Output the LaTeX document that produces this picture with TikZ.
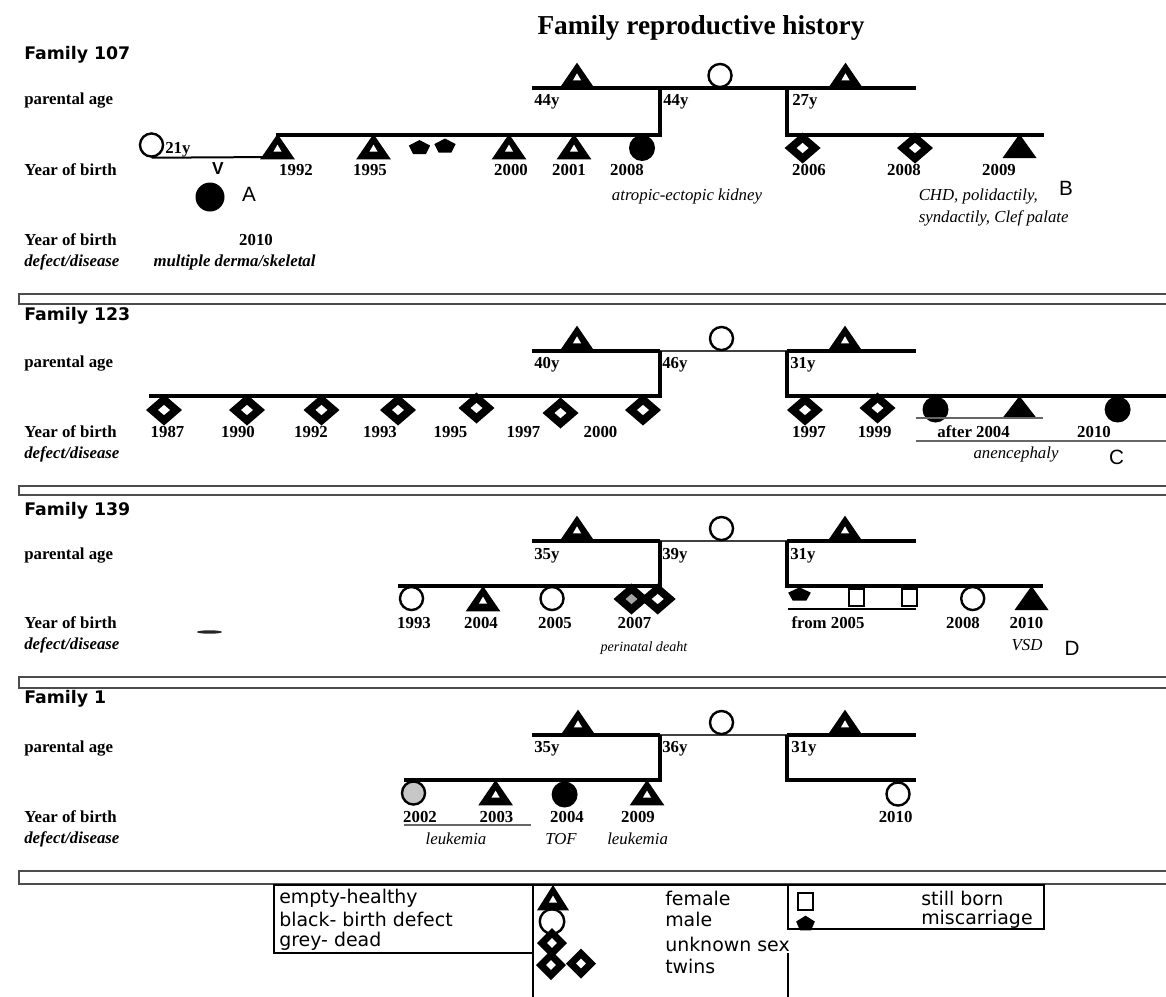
\documentclass[tikz,border=0pt]{standalone}
\usepackage{fontspec}
\setmainfont{Liberation Serif}
\newfontfamily\famfont{DejaVu Sans}
\newfontfamily\letfont{Liberation Sans}
\usetikzlibrary{calc}
\newcommand\ppbb{path picture bounding box}

\tikzset{
  pline/.style={line width=2.3pt},
  mline/.style={line width=1.1pt, black!75},
  uline/.style={line width=0.8pt, black!60},
  bandbox/.style={draw=black!70, line width=1.3pt},
  legbox/.style={line width=1.5pt},
  symb/.style={rectangle, inner sep=0pt, outer sep=0pt},
  fem/.style={symb, minimum width=26pt, minimum height=19pt, path picture={
      \fill (\ppbb.south west) -- (\ppbb.south east) -- (\ppbb.north) -- cycle;
      \fill[white] ($(\ppbb.north)!0.42!(\ppbb.south)$)
        -- ($(\ppbb.north)!0.7!(\ppbb.south)+(3.1pt,0pt)$)
        -- ($(\ppbb.north)!0.7!(\ppbb.south)+(-3.1pt,0pt)$) -- cycle;}},
  femblk/.style={symb, minimum width=25.5pt, minimum height=18pt, path picture={
      \fill (\ppbb.south west) -- (\ppbb.south east) -- (\ppbb.north) -- cycle;}},
  unk/.style={symb, minimum width=27pt, minimum height=23.25pt, path picture={
      \fill (\ppbb.north) -- (\ppbb.east) -- (\ppbb.south) -- (\ppbb.west) -- cycle;
      \fill[#1] ($(\ppbb.center)!0.33!(\ppbb.north)$) -- ($(\ppbb.center)!0.33!(\ppbb.east)$)
        -- ($(\ppbb.center)!0.33!(\ppbb.south)$) -- ($(\ppbb.center)!0.33!(\ppbb.west)$) -- cycle;}},
  unk/.default=white,
  male/.style={circle, draw, fill=white, line width=1.8pt, inner sep=0pt, minimum size=17.3pt},
  malblk/.style={circle, fill=black, inner sep=0pt, minimum size=19.5pt},
  malgry/.style={male, fill=black!22},
  still/.style={rectangle, draw, line width=1.5pt, inner sep=0pt, minimum width=11.25pt, minimum height=12.75pt},
  misc/.style={symb, minimum width=16pt, minimum height=10.5pt, path picture={
      \fill ($(\ppbb.north west)!0.5!(\ppbb.north east)$) -- ($(\ppbb.north east)!0.4!(\ppbb.south east)$)
        -- ($(\ppbb.south west)!0.8!(\ppbb.south east)$) -- ($(\ppbb.south west)!0.2!(\ppbb.south east)$)
        -- ($(\ppbb.north west)!0.4!(\ppbb.south west)$) -- cycle;}},
  ttl/.style={font=\fontsize{20.5}{24}\selectfont\bfseries, inner sep=0pt},
  fam/.style={font=\famfont\bfseries\fontsize{13}{15}\selectfont, anchor=west, inner sep=0pt},
  rowl/.style={font=\fontsize{12.6}{15}\selectfont\bfseries, anchor=west, inner sep=0pt},
  rowi/.style={font=\fontsize{12.6}{15}\selectfont\bfseries\itshape, anchor=west, inner sep=0pt},
  yr/.style={font=\fontsize{12.6}{15}\selectfont\bfseries, inner sep=0pt},
  age/.style={yr, anchor=west},
  dis/.style={font=\fontsize{12.6}{15}\selectfont\itshape, inner sep=0pt},
  panel/.style={font=\letfont\fontsize{15.5}{18}\selectfont, inner sep=0pt},
  leg/.style={font=\famfont\fontsize{14.2}{16}\selectfont, anchor=west, inner sep=0pt}
}

\begin{document}
\begin{tikzpicture}[x=0.75pt,y=-0.75pt]
\useasboundingbox (0,0) rectangle (1166,996);
\clip (0,0) rectangle (1166,996);

\node[ttl] (title) at (701,28) {Family reproductive history};

% Family 107
\node[fam] (f107) at (24,55) {Family 107};
\node[rowl] (pa107) at (24,101) {parental age};
\node[rowl] (yb107) at (24,170) {Year of birth};
\node[rowl] (yc107) at (24,240) {Year of birth};
\node[rowi] (dd107) at (24,262) {defect/disease};
\coordinate (a107l) at (532,88);
\coordinate (a107m) at (660,88);
\coordinate (a107n) at (787,88);
\coordinate (a107r) at (916,88);
\coordinate (b107l) at (275.5,135);
\coordinate (b107m) at (660,135);
\coordinate (b107n) at (787,135);
\coordinate (b107r) at (1044,135);
\draw[pline] (a107l) -- (a107r);
\draw[pline] (b107l) -- (b107m) -- (a107m);
\draw[pline] (a107n) -- (b107n) -- (b107r);
\node[fem, anchor=south] (m107a) at (577,88) {};
\node[male] (d107) at (720,75.5) {};
\node[fem, anchor=south] (m107b) at (845.5,88) {};
\node[age] (g107a) at (534,102) {44y};
\node[age] (g107b) at (663,102) {44y};
\node[age] (g107c) at (792,102) {27y};
% half sibling
\node[male] (h107) at (151.5,145) {};
\coordinate (h107r) at (275,157);
\draw[line width=1.5pt] (h107.south) -- (h107r);
\node[age] (g107h) at (165,150) {21y};
\node[panel, font=\letfont\bfseries\fontsize{13}{15}\selectfont] (v107) at (218,169) {V};
\node[malblk, minimum size=21.75pt] (k107) at (210,197) {};
\node[panel] (la) at (249,194) {A};
% children
\node[fem, anchor=north] (c107a) at (277.5,134) {};
\node[fem, anchor=north] (c107b) at (373.5,134) {};
\node[misc] (q107a) at (419.5,147) {};
\node[misc] (q107b) at (445,145.5) {};
\node[fem, anchor=north] (c107c) at (509,134) {};
\node[fem, anchor=north] (c107d) at (574,134) {};
\node[malblk] (c107e) at (642,148) {};
\node[unk] (c107f) at (802.6,148) {};
\node[unk] (c107g) at (915,148) {};
\node[femblk, anchor=north] (c107h) at (1019.5,134) {};
\foreach \x/\t [count=\i] in {296/1992, 370/1995, 511/2000, 569/2001, 627/2008, 809/2006, 904/2008, 999/2009}
  \node[yr] (y107-\i) at (\x,170) {\t};
\node[yr] (y107k) at (256,240) {2010};
\node[rowi, anchor=center] (d107k) at (234.5,262) {multiple derma/skeletal};
\node[dis] (d107a) at (687,196) {atropic-ectopic kidney};
\node[dis, anchor=west] (d107b) at (918.5,196) {CHD, polidactily,};
\node[dis, anchor=west] (d107c) at (918.5,218) {syndactily, Clef palate};
\node[panel] (lb) at (1066,188) {B};

\draw[bandbox] (19,294) rectangle (1175,304);

% Family 123
\node[fam] (f123) at (24,316) {Family 123};
\node[rowl] (pa123) at (24,364) {parental age};
\node[rowl] (yb123) at (24,432) {Year of birth};
\node[rowi] (dd123) at (24,454) {defect/disease};
\coordinate (a123l) at (532,351);
\coordinate (a123m) at (660,351);
\coordinate (a123n) at (787,351);
\coordinate (a123r) at (916,351);
\coordinate (b123l) at (148.5,396);
\coordinate (b123m) at (660,396);
\coordinate (b123n) at (787,396);
\coordinate (b123r) at (1170,396);
\draw[pline] (a123l) -- (a123m);
\draw[mline] (a123m) -- (a123n);
\draw[pline] (a123n) -- (a123r);
\draw[pline] (b123l) -- (b123m) -- (a123m);
\draw[pline] (a123n) -- (b123n) -- (b123r);
\node[fem, anchor=south] (m123a) at (577,351) {};
\node[male] (d123) at (721.5,338.5) {};
\node[fem, anchor=south] (m123b) at (845,351) {};
\node[age] (g123a) at (534,365) {40y};
\node[age] (g123b) at (662,365) {46y};
\node[age] (g123c) at (790,365) {31y};
\foreach \x/\y [count=\i] in {164/410, 247/410, 321.5/410, 398/410, 476.5/408, 560.5/413, 643/410, 805/410, 877.5/408}
  \node[unk] (u123-\i) at (\x,\y) {};
\node[malblk] (c123a) at (935.5,409.5) {};
\node[femblk, anchor=north, minimum height=16.5pt] (c123b) at (1019.5,396) {};
\node[malblk] (c123c) at (1117.6,409.5) {};
\coordinate (t123a) at (915.6,418);
\coordinate (t123b) at (1043,418);
\coordinate (t123c) at (915.6,441);
\coordinate (t123d) at (1170,441);
\draw[uline] (t123a) -- (t123b);
\draw[uline] (t123c) -- (t123d);
\foreach \x/\t [count=\i] in {167.5/1987, 238/1990, 311/1992, 380/1993, 450.5/1995, 523.5/1997, 600.5/2000, 809/1997, 874.6/1999, 973.6/after 2004, 1094/2010}
  \node[yr] (y123-\i) at (\x,432) {\t};
\node[dis] (d123a) at (1016,454) {anencephaly};
\node[panel] (lc) at (1116.5,457.5) {C};

\draw[bandbox] (19,486) rectangle (1175,495);

% Family 139
\node[fam] (f139) at (24,511) {Family 139};
\node[rowl] (pa139) at (24,556) {parental age};
\node[rowl] (yb139) at (24,623) {Year of birth};
\node[rowi] (dd139) at (24,645) {defect/disease};
\coordinate (a139l) at (532,541);
\coordinate (a139m) at (660,541);
\coordinate (a139n) at (787,541);
\coordinate (a139r) at (916,541);
\coordinate (b139l) at (398,586);
\coordinate (b139m) at (660,586);
\coordinate (b139n) at (787,586);
\coordinate (b139r) at (1043,586);
\draw[pline] (a139l) -- (a139m);
\draw[mline] (a139m) -- (a139n);
\draw[pline] (a139n) -- (a139r);
\draw[pline] (b139l) -- (b139m) -- (a139m);
\draw[pline] (a139n) -- (b139n) -- (b139r);
\node[fem, anchor=south] (m139a) at (577,541) {};
\node[male] (d139) at (721.5,528.5) {};
\node[fem, anchor=south] (m139b) at (845,541) {};
\node[age] (g139a) at (534,556) {35y};
\node[age] (g139b) at (662,556) {39y};
\node[age] (g139c) at (790,556) {31y};
\node[male] (c139a) at (411.5,598.5) {};
\node[fem, anchor=north] (c139b) at (483,586) {};
\node[male] (c139c) at (552,598.5) {};
\node[unk=black!35] (c139d) at (631.5,599) {};
\node[unk] (c139e) at (657.7,599) {};
\node[misc, minimum width=17pt, minimum height=10pt] (q139) at (799.5,594) {};
\node[still] (s139a) at (856.7,597.5) {};
\node[still] (s139b) at (909,597.5) {};
\coordinate (t139a) at (788,609);
\coordinate (t139b) at (915.6,609);
\draw[line width=1.8pt] (t139a) -- (t139b);
\node[male] (c139f) at (972.7,598.5) {};
\node[femblk, anchor=north] (c139g) at (1031.5,586) {};
\foreach \x/\t [count=\i] in {414/1993, 481/2004, 555/2005, 634.5/2007, 828/from 2005, 963/2008, 1026.5/2010}
  \node[yr] (y139-\i) at (\x,623) {\t};
\node[dis, font=\fontsize{10.6}{12}\selectfont\itshape] (d139a) at (644,648) {perinatal deaht};
\node[dis] (d139b) at (1027,645) {VSD};
\node[panel] (ld) at (1072,648) {D};
\fill[black!85] (209.5,632) ellipse (9.4pt and 1.3pt);

\draw[bandbox] (19,677) rectangle (1175,688);

% Family 1
\node[fam] (f1) at (24,699) {Family 1};
\node[rowl] (pa1) at (24,749) {parental age};
\node[rowl] (yb1) at (24,817) {Year of birth};
\node[rowi] (dd1) at (24,839) {defect/disease};
\coordinate (a1l) at (532,735);
\coordinate (a1m) at (660,735);
\coordinate (a1n) at (787,735);
\coordinate (a1r) at (916,735);
\coordinate (b1l) at (403.7,780);
\coordinate (b1m) at (660,780);
\coordinate (b1n) at (787,780);
\coordinate (b1r) at (915.6,780);
\draw[pline] (a1l) -- (a1m);
\draw[mline] (a1m) -- (a1n);
\draw[pline] (a1n) -- (a1r);
\draw[pline] (b1l) -- (b1m) -- (a1m);
\draw[pline] (a1n) -- (b1n) -- (b1r);
\node[fem, anchor=south] (m1a) at (578,735) {};
\node[male] (d1) at (721.5,722.5) {};
\node[fem, anchor=south] (m1b) at (845,735) {};
\node[age] (g1a) at (534,749) {35y};
\node[age] (g1b) at (662,749) {36y};
\node[age] (g1c) at (791,749) {31y};
\node[malgry] (c1a) at (413.5,793) {};
\node[fem, anchor=north] (c1b) at (495.6,780) {};
\node[malblk] (c1c) at (564.6,794.5) {};
\node[fem, anchor=north] (c1d) at (647,780) {};
\node[male] (c1e) at (898,794) {};
\foreach \x/\t [count=\i] in {420/2002, 496.5/2003, 567/2004, 638/2009, 895.6/2010}
  \node[yr] (y1-\i) at (\x,817) {\t};
\coordinate (t1a) at (403.7,825);
\coordinate (t1b) at (531,825);
\draw[uline] (t1a) -- (t1b);
\node[dis] (d1a) at (456,839) {leukemia};
\node[dis] (d1b) at (561,839) {TOF};
\node[dis] (d1c) at (637.6,839) {leukemia};

\draw[bandbox] (19,871) rectangle (1175,884);

% legend
\coordinate (lga) at (274,885);
\coordinate (lgb) at (533,953);
\coordinate (lgc) at (533,885);
\coordinate (lgd) at (533,1000);
\coordinate (lge) at (788,885);
\coordinate (lgf) at (1044,929);
\coordinate (lgg) at (788,953);
\coordinate (lgh) at (788,1000);
\draw[legbox] (lga) rectangle (lgb);
\draw[legbox] (lgc) -- (lge);
\draw[legbox] (lge) rectangle (lgf);
\draw[legbox] (lgc) -- (lgd);
\draw[legbox] (lgg) -- (lgh);
\node[leg] (e1) at (279,898) {empty-healthy};
\node[leg] (e2) at (279,919) {black- birth defect};
\node[leg] (e3) at (279,941.5) {grey- dead};
\node[fem, anchor=north, minimum width=24pt] (s1) at (553,885) {};
\node[male, fill=none, minimum size=18.4pt] (s2) at (552,921.5) {};
\node[unk, minimum width=22.5pt, minimum height=22.5pt] (s3) at (552,943) {};
\node[unk, minimum width=22.5pt, minimum height=22.5pt] (s4) at (551,965) {};
\node[unk, minimum width=22.5pt, minimum height=22.5pt] (s5) at (581,963.5) {};
\node[leg] (e4) at (665,898) {female};
\node[leg] (e5) at (665,919) {male};
\node[leg] (e6) at (665,944) {unknown sex};
\node[leg] (e7) at (665,966.5) {twins};
\node[still] (s6) at (805.5,901.5) {};
\node[misc, minimum width=14pt, minimum height=11pt] (s7) at (805.5,923) {};
\node[leg] (e8) at (921,898) {still born};
\node[leg] (e9) at (921,919) {miscarriage};
\end{tikzpicture}
\end{document}
